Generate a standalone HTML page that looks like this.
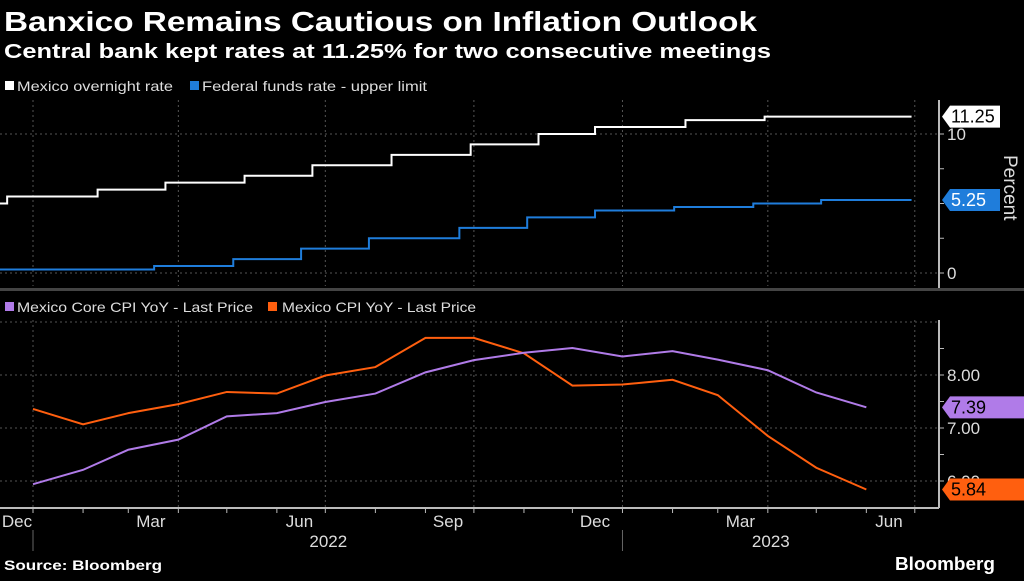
<!DOCTYPE html>
<html><head><meta charset="utf-8"><style>
body{margin:0;background:#000;width:1024px;height:576px;overflow:hidden;font-family:"Liberation Sans",sans-serif;color:#fff}
</style></head><body>
<svg width="1024" height="576" xmlns="http://www.w3.org/2000/svg" font-family="Liberation Sans, sans-serif">
<text x="4" y="31" font-size="28" font-weight="bold" fill="#fff" textLength="753" lengthAdjust="spacingAndGlyphs">Banxico Remains Cautious on Inflation Outlook</text>
<text x="4" y="58" font-size="20" font-weight="bold" fill="#fff" textLength="767" lengthAdjust="spacingAndGlyphs">Central bank kept rates at 11.25% for two consecutive meetings</text>
<g>
<rect x="5" y="81" width="9" height="9" fill="#fff"/><text x="17" y="91" font-size="14" fill="#ddd" textLength="156" lengthAdjust="spacingAndGlyphs">Mexico overnight rate</text>
<rect x="190" y="81" width="9" height="9" fill="#1f7ddb"/><text x="202" y="91" font-size="14" fill="#ddd" textLength="225" lengthAdjust="spacingAndGlyphs">Federal funds rate - upper limit</text>
</g>
<g>
<rect x="5" y="302" width="9" height="9" fill="#b07be8"/><text x="17" y="312" font-size="14" fill="#ddd" textLength="236" lengthAdjust="spacingAndGlyphs">Mexico Core CPI YoY - Last Price</text>
<rect x="268" y="302" width="9" height="9" fill="#ff5f0f"/><text x="282" y="312" font-size="14" fill="#ddd" textLength="194" lengthAdjust="spacingAndGlyphs">Mexico CPI YoY - Last Price</text>
</g>
<rect x="0" y="288" width="1024" height="3" fill="#444"/>
<g id="g"></g>
<text x="4" y="570" font-size="14" font-weight="bold" fill="#fff" textLength="158" lengthAdjust="spacingAndGlyphs">Source: Bloomberg</text>
<text x="895" y="570" font-size="18" font-weight="bold" fill="#fff" textLength="100" lengthAdjust="spacingAndGlyphs">Bloomberg</text>
</svg>
<script>
const mxDates=["2021-12-16","2022-02-10","2022-03-24","2022-05-12","2022-06-23","2022-08-11","2022-09-29","2022-11-10","2022-12-15","2023-02-09","2023-03-30"];
const mxStart=5.0;
const mxRates=[5.5,6.0,6.5,7.0,7.75,8.5,9.25,10.0,10.5,11.0,11.25];
const fedStart=0.25;
const fedDates=["2021-12-01","2022-03-17","2022-05-05","2022-06-16","2022-07-28","2022-09-22","2022-11-03","2022-12-15","2023-02-02","2023-03-23","2023-05-04"];
const fedRates=[0.25,0.5,1.0,1.75,2.5,3.25,4.0,4.5,4.75,5.0,5.25];
const cpiMonths=["2022-01","2022-02","2022-03","2022-04","2022-05","2022-06","2022-07","2022-08","2022-09","2022-10","2022-11","2022-12","2023-01","2023-02","2023-03","2023-04","2023-05","2023-06"];
const coreCPI=[5.94,6.21,6.59,6.78,7.22,7.28,7.49,7.65,8.05,8.28,8.42,8.51,8.35,8.45,8.29,8.09,7.67,7.39];
const headCPI=[7.36,7.07,7.28,7.45,7.68,7.65,7.99,8.15,8.70,8.70,8.41,7.80,7.82,7.91,7.62,6.85,6.25,5.84];
const xLabels=["Dec","Mar","Jun","Sep","Dec","Mar","Jun"];
const xLabelDates=["2021-12-15","2022-03-15","2022-06-15","2022-09-15","2022-12-15","2023-03-15","2023-06-15"];
const topTicks=[0,10];
const botTicks=[6,7,8];
const botTickLabels=["6.00","7.00","8.00"];

const NS="http://www.w3.org/2000/svg",g=document.getElementById('g');
const D0=Date.UTC(2022,0,1);
function x(d){const t=Date.parse(d.length==7?d+"-01":d);return 33+(t-D0)/86400000*1.615;}
const END="2023-06-29";
function yT(v){return 273-v*13.9;}
function yB(v){return 428-(v-7)*53;}
function el(tag,at,parent){const e=document.createElementNS(NS,tag);for(const k in at)e.setAttribute(k,at[k]);(parent||g).appendChild(e);return e;}
["2022-01-01","2022-04-01","2022-07-01","2022-10-01","2023-01-01","2023-04-01","2023-07-01"].forEach(d=>{
 let l=el('line',{x1:x(d),x2:x(d),y1:100,y2:286,stroke:"#555","stroke-dasharray":"2,3"});
 
 let m=el('line',{x1:x(d),x2:x(d),y1:320,y2:508,stroke:"#555","stroke-dasharray":"2,3"});
 
});
topTicks.forEach(v=>{
 let l=el('line',{x1:0,x2:939,y1:yT(v),y2:yT(v),stroke:"#555","stroke-dasharray":"2,3"});
 
 el('line',{x1:939,x2:944,y1:yT(v),y2:yT(v),stroke:"#bbb"});
 let t=el('text',{x:947,y:yT(v)+6,"font-size":17,fill:"#ddd"});t.textContent=v;
 
});
[2.5,5,7.5].forEach(v=>el('line',{x1:939,x2:944,y1:yT(v),y2:yT(v),stroke:"#bbb"}));
[6,7,8,9].forEach(v=>{let l=el('line',{x1:0,x2:939,y1:yB(v),y2:yB(v),stroke:"#555","stroke-dasharray":"2,3"});
 });
botTicks.forEach((v,i)=>{
 el('line',{x1:939,x2:944,y1:yB(v),y2:yB(v),stroke:"#bbb"});
 let t=el('text',{x:947,y:yB(v)+6,"font-size":17,fill:"#ddd"});t.textContent=botTickLabels[i];
 
});
[6.5,7.5,8.5].forEach(v=>el('line',{x1:939,x2:944,y1:yB(v),y2:yB(v),stroke:"#bbb"}));
el('line',{x1:939,x2:939,y1:100,y2:288,stroke:"#bbb","stroke-width":2});
el('line',{x1:939,x2:939,y1:320,y2:508,stroke:"#bbb","stroke-width":2});
let pc=el('text',{x:0,y:0,"font-size":19,fill:"#ddd",transform:"translate(1004,155) rotate(90)"});pc.textContent="Percent";

el('line',{x1:0,x2:939,y1:508,y2:508,stroke:"#bbb","stroke-width":2});
for(let i=-1;i<=18;i++){const dt=new Date(Date.UTC(2022,i,1));const xx=x(dt.toISOString().slice(0,10));el('line',{x1:xx,x2:xx,y1:508,y2:513,stroke:"#bbb"});}
xLabels.forEach((s,i)=>{let t=el('text',{x:Math.max(17,x(xLabelDates[i])),y:527,"font-size":17,fill:"#ddd","text-anchor":"middle"});t.textContent=s;
 });
[["2022","2022-07-01",x("2022-01-01")],["2023","2023-04-01",x("2023-01-01")]].forEach(a=>{
 let t=el('text',{x:x(a[1])+3,y:547,"font-size":17,fill:"#ddd","text-anchor":"middle"});t.textContent=a[0];
 
 el('line',{x1:a[2],x2:a[2],y1:530,y2:551,stroke:"#666"});
});
function step(start,dates,vals,color,name){
 let p="M0,"+yT(start),prev=start;
 dates.forEach((d,i)=>{let xx=Math.max(0,x(d));p+=" L"+xx+","+yT(prev)+" L"+xx+","+yT(vals[i]);prev=vals[i];});
 p+=" L"+x(END)+","+yT(prev);
 let e=el('path',{d:p,fill:"none",stroke:color,"stroke-width":2});
 
}
step(mxStart,mxDates,mxRates,"#fff","mexico-overnight-line");
step(fedStart,fedDates,fedRates,"#1f7ddb","fed-funds-line");
function line(vals,color,name){
 let p=vals.map((v,i)=>(i?"L":"M")+x(cpiMonths[i])+","+yB(v)).join(" ");
 let e=el('path',{d:p,fill:"none",stroke:color,"stroke-width":2});
 
}
line(headCPI,"#ff5f0f","headline-cpi-line");
line(coreCPI,"#b07be8","core-cpi-line");
function tag(y,txt,bg,fg,name,w){
 let p=el('path',{d:`M942,${y} L950,${y-11} L${950+w},${y-11} L${950+w},${y+11} L950,${y+11} Z`,fill:bg});
 
 let t=el('text',{x:951,y:y+6,"font-size":18,fill:fg});t.textContent=txt;
}
tag(yT(mxRates[mxRates.length-1]),mxRates[mxRates.length-1].toFixed(2),"#fff","#000","tag-mexico",50);
tag(yT(fedRates[fedRates.length-1]),fedRates[fedRates.length-1].toFixed(2),"#1f7ddb","#fff","tag-fed",50);
tag(yB(coreCPI[coreCPI.length-1]),coreCPI[coreCPI.length-1].toFixed(2),"#b07be8","#000","tag-core",74);
tag(yB(headCPI[headCPI.length-1]),headCPI[headCPI.length-1].toFixed(2),"#ff5f0f","#000","tag-headline",74);
</script>
</body></html>
